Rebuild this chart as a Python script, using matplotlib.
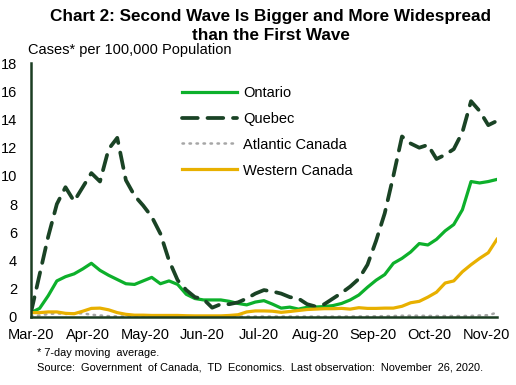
import numpy as np
import matplotlib
matplotlib.use("Agg")
import matplotlib.pyplot as plt

plt.rcParams['font.family'] = ['Liberation Sans', 'DejaVu Sans']

# days since Mar 1, 2020 (5-day steps)
days = np.arange(0, 271, 5)

ontario = [0.3, 0.6, 1.5, 2.55, 2.85, 3.05, 3.4, 3.8, 3.3, 2.95,
           2.65, 2.35, 2.3, 2.55, 2.8, 2.35, 2.55, 2.3, 1.6, 1.3,
           1.2, 1.2, 1.2, 1.1, 0.95, 0.85, 1.05, 1.15, 0.9, 0.62,
           0.69, 0.55, 0.68, 0.7, 0.73, 0.8, 0.95, 1.2, 1.55, 2.1,
           2.6, 3.0, 3.8, 4.15, 4.6, 5.2, 5.1, 5.5, 6.1, 6.55,
           7.6, 9.6, 9.5, 9.6, 9.75]
quebec = [0.3, 3.0, 5.7, 8.0, 9.2, 8.2, 9.2, 10.2, 9.6, 11.9,
          12.7, 9.7, 8.6, 7.9, 7.1, 5.9, 4.0, 2.6, 1.9, 1.4,
          1.25, 0.65, 0.9, 0.9, 1.03, 1.3, 1.65, 1.9, 1.8, 1.65,
          1.4, 1.3, 0.9, 0.73, 0.9, 1.3, 1.7, 2.15, 2.7, 3.7,
          5.4, 7.35, 10.0, 12.8, 12.3, 12.0, 12.2, 11.2, 11.5, 11.9,
          13.1, 15.3, 14.6, 13.6, 13.9]
atlantic = [0.05, 0.1, 0.2, 0.25, 0.2, 0.25, 0.25, 0.15, 0.1, 0.05,
            0.03, 0.02, 0.02, 0.02, 0.02, 0.02, 0.02, 0.02, 0.02, 0.02,
            0.02, 0.02, 0.02, 0.02, 0.02, 0.02, 0.02, 0.02, 0.02, 0.02,
            0.02, 0.02, 0.02, 0.02, 0.02, 0.02, 0.02, 0.03, 0.03, 0.03,
            0.04, 0.05, 0.06, 0.08, 0.08, 0.08, 0.07, 0.06, 0.06, 0.06,
            0.06, 0.07, 0.1, 0.12, 0.3]
western = [0.3, 0.3, 0.35, 0.35, 0.25, 0.22, 0.4, 0.6, 0.62, 0.5,
           0.3, 0.18, 0.12, 0.12, 0.1, 0.1, 0.1, 0.1, 0.08, 0.07,
           0.07, 0.07, 0.07, 0.1, 0.15, 0.35, 0.42, 0.42, 0.4, 0.32,
           0.38, 0.45, 0.52, 0.55, 0.58, 0.58, 0.6, 0.55, 0.65, 0.6,
           0.6, 0.62, 0.62, 0.75, 1.0, 1.1, 1.4, 1.75, 2.4, 2.55,
           3.2, 3.7, 4.15, 4.55, 5.5]

month_labels = ['Mar-20', 'Apr-20', 'May-20', 'Jun-20', 'Jul-20',
                'Aug-20', 'Sep-20', 'Oct-20', 'Nov-20']
tick_days = np.arange(len(month_labels)) * 33

AXIS_COLOR = '#1B3D22'

fig = plt.figure(figsize=(5.16, 3.85), dpi=100)
ax = fig.add_axes([0.060, 0.177, 0.903, 0.659])

ax.plot(days, ontario, color='#0DB02B', lw=2.3, label='Ontario')
ax.plot(days, quebec, color='#1A4325', lw=2.7, dashes=(4.2, 2.6),
        dash_capstyle='round', label='Quebec')
ax.plot(days, atlantic, color='#A6A6A6', lw=1.8, dashes=(0.6, 2.2),
        dash_capstyle='round', label='Atlantic Canada')
ax.plot(days, western, color='#E8B000', lw=2.3, label='Western Canada')

ax.set_xlim(0, 270)
ax.set_ylim(0, 18)
ax.set_yticks(range(0, 19, 2))
ax.set_xticks(tick_days)
ax.set_xticklabels(month_labels)
ax.tick_params(length=0, labelsize=10.5, colors='black')
ax.tick_params(axis='y', pad=10)
ax.tick_params(axis='x', pad=8)

for side in ['top', 'right']:
    ax.spines[side].set_visible(False)
for side in ['left', 'bottom']:
    ax.spines[side].set_color(AXIS_COLOR)
    ax.spines[side].set_linewidth(1.8)

leg = ax.legend(loc='upper left', bbox_to_anchor=(0.296, 0.963), frameon=False,
                fontsize=10.5, handlelength=3.8, handletextpad=0.4,
                labelspacing=0.82)

fig.text(0.525, 0.977, 'Chart 2: Second Wave Is Bigger and More Widespread\nthan the First Wave',
         ha='center', va='top', fontsize=12.3, fontweight='bold', linespacing=1.38)
fig.text(0.054, 0.87, 'Cases* per 100,000 Population', fontsize=10.5, va='center')
fig.text(0.072, 0.083, '* 7-day moving  average.', fontsize=7.9, va='center')
fig.text(0.072, 0.045, 'Source:  Government  of Canada,  TD  Economics.  Last observation:  November  26, 2020.',
         fontsize=7.9, va='center')

fig.savefig('out.png', dpi=100)
